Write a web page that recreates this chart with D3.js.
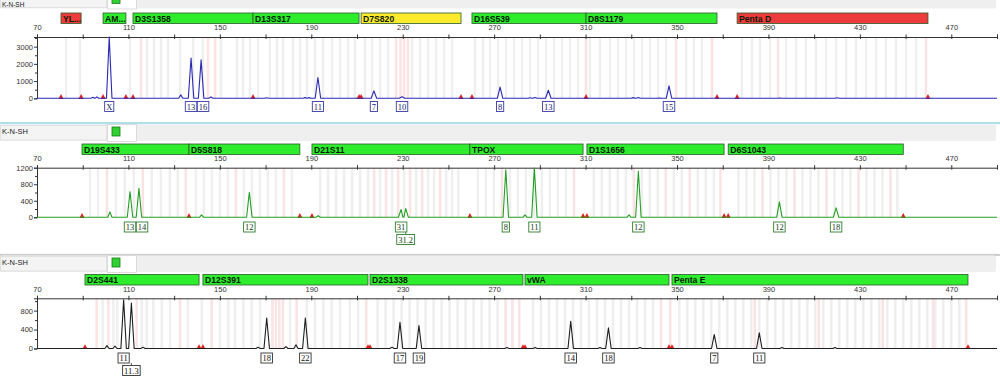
<!DOCTYPE html>
<html><head><meta charset="utf-8">
<script src="https://cdn.jsdelivr.net/npm/d3@7/dist/d3.min.js"></script>
<style>body{margin:0;background:#fff;overflow:hidden}svg{display:block}</style>
</head><body>
<svg id="c" width="1000" height="383"></svg>
<script>
// ---------------- DATA ----------------
const sampleName = "K-N-SH";
const xTickValues = [70,90,110,130,150,170,190,210,230,250,270,290,310,330,350,370,390,410,430,450,470,490];
const xTickLabels = [70,110,150,190,230,270,310,350,390,430,470];

// Panel 1 (blue)
const p1LocusNames = ["YL...","AM...","D3S1358","D13S317","D7S820","D16S539","D8S1179","Penta D"];
const p1LocusStart = [80.5, 98.9, 112.0, 164.5, 211.8, 260.3, 310.2, 376.3];
const p1LocusEnd   = [89.3, 108.9, 164.5, 210.9, 255.5, 310.2, 367.5, 459.8];
const p1LocusStatus = ["fail","ok","ok","ok","warn","ok","ok","fail"];
const p1AlleleLabels = ["X","13","16","11","7","10","8","13","15"];
const p1AlleleSizes  = [101.6, 137.4, 141.8, 192.9, 217.4, 229.7, 272.6, 293.7, 346.5];
const p1AlleleRFU    = [3600, 2340, 2230, 1210, 430, 90, 650, 470, 720];
const p1NoiseSizes = [94.5, 96.1, 132.9, 146.1, 170.5, 187.3, 189.0, 285.7, 287.9, 330.8, 333.0, 342.1, 395.0, 420.0];
const p1NoiseRFU   = [60, 80, 200, 80, 30, 40, 40, 30, 50, 40, 50, 20, 20, 30];
const p1YTicks = [0,1000,2000,3000];
const p1YMinor = [500,1500,2500,3500];
const p1BinsGray = [82.7,88.8,110.7,118.1,121.2,124.3,127.3,132.6,138.3,142.6,150.5,157.5,160.1,163.2,166.7,171.9,175.0,177.6,182.0,185.1,188.1,191.6,195.1,199.1,202.6,206.1,209.1,213.5,216.6,220.1,223.6,234.1,237.6,241.1,244.6,248.1,251.6,261.6,265.1,268.2,271.7,275.2,278.7,282.2,285.7,289.2,292.7,296.2,299.7,303.2,306.7,311.9,316.3,320.7,324.2,327.7,331.2,334.7,338.2,341.7,345.2,354.0,357.4,360.9,378.4,382.8,386.3,390.7,397.7,402.1,406.4,410.8,415.2,419.6,424.0,428.3,432.7,437.1,441.4,445.8,450.2,454.6];
const p1BinsPink = [115.5,144.8,147.9,227.1,229.0,230.6,232.3,310.2,349.6,365.3,394.2,458.9];

// Panel 2 (green)
const p2LocusNames = ["D19S433","D5S818","D21S11","TPOX","D1S1656","D6S1043"];
const p2LocusStart = [89.7, 136.5, 190.3, 259.4, 310.6, 372.4];
const p2LocusEnd   = [136.5, 185.0, 259.4, 308.9, 370.6, 449.0];
const p2LocusStatus = ["ok","ok","ok","ok","ok","ok"];
const p2AlleleLabels = ["13","14","12","31","31.2","8","11","12","12","18"];
const p2AlleleSizes  = [110.7, 114.6, 162.9, 229.3, 231.3, 275.1, 287.6, 333.1, 394.8, 419.6];
const p2AlleleRFU    = [620, 700, 605, 190, 213, 1150, 1190, 1110, 375, 228];
const p2NoiseSizes = [101.9, 142.0, 193.0, 283.5, 329.0];
const p2NoiseRFU   = [130, 60, 40, 60, 60];
const p2YTicks = [0,400,800,1200];
const p2YMinor = [200,600,1000];
const p2BinsGray = [93.2,96.7,104.5,108.4,112.4,120.2,124.2,128.1,131.6,139.5,143.0,146.5,150.0,153.5,160.5,164.0,167.5,171.0,174.5,181.5,193.9,197.4,200.9,204.4,207.9,211.4,214.9,220.1,225.4,230.6,235.9,241.1,243.7,249.0,251.6,254.3,262.9,266.4,269.9,276.9,280.4,283.9,287.4,290.9,294.4,297.9,301.4,313.6,317.1,320.6,324.1,327.6,334.6,338.1,341.6,348.6,352.1,359.1,362.6,366.1,376.9,380.4,383.9,390.9,394.4,397.9,404.9,408.4,411.9,418.9,422.4,425.9,432.9,436.4,439.9,446.4];
const p2BinsPink = [100.6,116.3,135.1,157.0,178.0,217.5,222.7,228.0,233.2,238.5,246.4,273.4,304.9,331.1,345.1,355.6,369.0,387.4,401.4,415.4,429.4,443.4];

// Panel 3 (black)
const p3LocusNames = ["D2S441","D12S391","D2S1338","vWA","Penta E"];
const p3LocusStart = [91.0, 142.6, 215.7, 283.5, 347.8];
const p3LocusEnd   = [140.9, 214.8, 282.6, 346.5, 477.3];
const p3LocusStatus = ["ok","ok","ok","ok","ok"];
const p3AlleleLabels = ["11","11.3","18","22","17","19","14","18","7","11"];
const p3AlleleSizes  = [107.9, 111.3, 170.5, 187.4, 228.8, 237.1, 303.5, 320.0, 366.3, 386.0];
const p3AlleleRFU    = [1030, 960, 645, 645, 555, 485, 575, 435, 295, 330];
const p3NoiseSizes = [100.6, 104.1, 116.4, 166.7, 178.9, 183.3, 225.3, 275.6, 287.9, 316.3, 333.8, 395.9, 419.1];
const p3NoiseRFU   = [60, 50, 30, 30, 40, 80, 30, 20, 20, 20, 20, 20, 20];
const p3YTicks = [0,400,800];
const p3YMinor = [200,600,1000];
const p3BinsGray = [98.7,103.4,105.1,115.8,118.0,120.9,124.6,128.2,136.0,142.1,150.0,153.7,156.6,160.3,163.9,167.6,180.7,188.0,191.6,195.3,198.9,202.6,206.9,210.5,219.0,222.5,226.0,229.5,233.0,236.5,240.0,243.5,247.0,250.5,254.0,257.5,261.0,264.5,268.0,271.5,287.0,290.5,294.0,297.5,301.0,304.5,308.0,311.5,315.0,318.5,322.0,325.5,329.0,332.5,336.0,339.5,351.0,354.5,358.0,361.5,365.0,368.5,372.0,375.5,379.0,382.5,386.0,389.5,393.0,396.5,400.0,403.5,407.0,410.5,414.0,417.5,421.0,424.5,428.0,431.5,435.0,438.5,442.0,445.5,449.0,452.5,456.0,459.5,463.0,466.5,470.0,473.5];
const p3BinsPink = [96.1,101.2,113.6,132.6,146.4,173.0,174.5,176.0,177.6,183.6,214.0,275.0,278.0,281.0,343.0,347.0,384.0,412.0,440.0,462.0,476.5];

// ---------------- LAYOUT / STYLE ----------------
const svg = d3.select("#c");
const x = d3.scaleLinear().domain([70,490]).range([37,997]);
const statusFill = {ok:"#2ded2d", warn:"#ffeb2e", fail:"#ee3b3b"};
const FONT = "'Liberation Sans', Arial, sans-serif";
const SERIF = "'Liberation Serif', 'Times New Roman', serif";

const panels = [
  {sepY:null, headTop:-8, headBot:8.5, nameY:7, lociY:13, axisY:37, baseY:98.3, yMax:3560, labelY:101.5,
   trace:"#2a2ab4", box:"#3a3aa8", boxText:"#1a1a6a",
   names:p1LocusNames, start:p1LocusStart, end:p1LocusEnd, status:p1LocusStatus,
   labels:p1AlleleLabels, sizes:p1AlleleSizes, rfu:p1AlleleRFU, nS:p1NoiseSizes, nR:p1NoiseRFU,
   yt:p1YTicks, ym:p1YMinor, bg:p1BinsGray, bp:p1BinsPink, sepColor:null},
  {sepY:122, headTop:124.5, headBot:141, nameY:134, lociY:144, axisY:167.7, baseY:217.3, yMax:1200, labelY:222,
   trace:"#23a023", box:"#2f7f2f", boxText:"#143c14",
   names:p2LocusNames, start:p2LocusStart, end:p2LocusEnd, status:p2LocusStatus,
   labels:p2AlleleLabels, sizes:p2AlleleSizes, rfu:p2AlleleRFU, nS:p2NoiseSizes, nR:p2NoiseRFU,
   yt:p2YTicks, ym:p2YMinor, bg:p2BinsGray, bp:p2BinsPink, sepColor:"#aee0ea"},
  {sepY:253.8, headTop:255.5, headBot:272, nameY:265, lociY:274.5, axisY:298.3, baseY:348.5, yMax:1060, labelY:353,
   trace:"#1e1e1e", box:"#333", boxText:"#111",
   names:p3LocusNames, start:p3LocusStart, end:p3LocusEnd, status:p3LocusStatus,
   labels:p3AlleleLabels, sizes:p3AlleleSizes, rfu:p3AlleleRFU, nS:p3NoiseSizes, nR:p3NoiseRFU,
   yt:p3YTicks, ym:p3YMinor, bg:p3BinsGray, bp:p3BinsPink, sepColor:"#cfcfcf"}
];

panels.forEach((P, pi) => {
  const g = svg.append("g");
  const y = d3.scaleLinear().domain([0, P.yMax]).range([P.baseY, P.axisY]);

  // separator
  if (P.sepColor) g.append("rect").attr("x",0).attr("y",P.sepY).attr("width",1000).attr("height",2.2).attr("fill",P.sepColor);
  // header band
  g.append("rect").attr("x",0).attr("y",P.headTop).attr("width",996).attr("height",P.headBot-P.headTop)
    .attr("fill","#efefef").attr("rx",2);
  g.append("rect").attr("x",0.5).attr("y",P.headTop+1).attr("width",106).attr("height",P.headBot-P.headTop-2)
    .attr("fill","#f4f4f4").attr("stroke","#dcdcdc").attr("stroke-width",0.8);
  g.append("text").attr("x",2).attr("y",P.nameY).attr("font-family",FONT).attr("font-size",pi===0?6.5:7.5)
    .attr("fill","#222").text(sampleName);
  g.append("rect").attr("x",107.5).attr("y",P.headTop).attr("width",29).attr("height",P.headBot-P.headTop+0.5)
    .attr("fill","#fff").attr("stroke","#d4d4d4").attr("stroke-width",0.8);
  g.append("rect").attr("x",112).attr("y",P.headBot-14).attr("width",8).attr("height",9)
    .attr("fill","#31cf31").attr("stroke","#1b7d1b").attr("stroke-width",0.8);

  // locus bars
  const loci = P.names.map((n,i)=>({n, s:P.start[i], e:P.end[i], st:P.status[i]}));
  const lg = g.append("g");
  lg.selectAll("rect").data(loci).join("rect")
    .attr("x", d=>x(d.s)).attr("y", P.lociY).attr("width", d=>x(d.e)-x(d.s)).attr("height", 10.5)
    .attr("fill", d=>statusFill[d.st]).attr("stroke","#2c5a2c").attr("stroke-width",0.8);
  lg.selectAll("text").data(loci).join("text")
    .attr("x", d=>x(d.s)+2).attr("y", P.lociY+8.6)
    .attr("font-family",FONT).attr("font-weight","bold").attr("font-size",8.6).attr("fill","#0a1a0a")
    .text(d=>d.n);

  // bins (stripes)
  const bw = x(71.1)-x(70);
  g.append("g").selectAll("rect").data(P.bg).join("rect")
    .attr("x", d=>x(d)-bw/2).attr("y", P.axisY).attr("width", bw).attr("height", P.baseY-P.axisY)
    .attr("fill","#efefef");
  g.append("g").selectAll("rect").data(P.bp).join("rect")
    .attr("x", d=>x(d)-bw/2).attr("y", P.axisY).attr("width", bw).attr("height", P.baseY-P.axisY)
    .attr("fill","#fbe3e3");

  // x axis (top)
  const xa = d3.axisTop(x).tickValues(xTickValues).tickSize(2.5)
    .tickFormat(d => xTickLabels.includes(d) ? d : "");
  const xg = g.append("g").attr("transform",`translate(0,${P.axisY})`).call(xa);
  xg.select(".domain").attr("stroke","#333").attr("stroke-width",1);
  xg.selectAll(".tick line").attr("y1",2).attr("stroke","#333");
  xg.selectAll(".tick text").attr("font-family",FONT).attr("font-size",7.5).attr("fill","#333").attr("dy","-0.15em");

  // y axis
  const ya = d3.axisLeft(y).tickValues(P.yt).tickSize(3).tickFormat(d3.format("d"));
  const yg = g.append("g").attr("transform",`translate(37,0)`).call(ya);
  yg.select(".domain").attr("stroke","#333");
  yg.selectAll(".tick line").attr("stroke","#333");
  yg.selectAll(".tick text").attr("font-family",FONT).attr("font-size",7.5).attr("fill","#333").attr("x",-4);
  const ymn = d3.axisLeft(y).tickValues(P.ym.filter(v=>v<P.yMax)).tickSize(2).tickFormat("");
  const ymg = g.append("g").attr("transform",`translate(37,0)`).call(ymn);
  ymg.select(".domain").remove();
  ymg.selectAll(".tick line").attr("stroke","#333");

  // red markers at locus boundaries
  const bounds = [];
  loci.forEach(l => { [l.s,l.e].forEach(b => { if (!bounds.some(v=>Math.abs(v-b)<0.3)) bounds.push(b); }); });
  g.append("g").selectAll("path").data(bounds).join("path")
    .attr("d", d => `M${x(d)-2.6},${P.baseY+0.6} L${x(d)},${P.baseY-4.2} L${x(d)+2.6},${P.baseY+0.6} Z`)
    .attr("fill","#e0201c");

  // trace
  const pts = [[70,0],[490,0]];
  P.sizes.forEach((s,i)=>{ const h=Math.min(P.rfu[i],P.yMax); pts.push([s-1.2,0],[s,h],[s+1.2,0]); });
  P.nS.forEach((s,i)=>{ pts.push([s-0.9,0],[s,P.nR[i]],[s+0.9,0]); });
  pts.sort((a,b)=>a[0]-b[0]);
  g.append("path").datum(pts)
    .attr("d", d3.line().x(d=>x(d[0])).y(d=>y(d[1])))
    .attr("fill","none").attr("stroke",P.trace).attr("stroke-width",1.1).attr("stroke-linejoin","round");

  // allele label boxes
  const lab = P.labels.map((t,i)=>({t, s:P.sizes[i]}));
  const lbg = g.append("g");
  let prevRight = -1e9;
  lab.forEach(d => {
    const cx = x(d.s);
    const tmp = lbg.append("text").attr("font-family",SERIF).attr("font-size",8.5).text(d.t);
    const tw = tmp.node().getComputedTextLength(); tmp.remove();
    const w = tw + 3;
    let row = 0, left = cx - w/2;
    if (left < prevRight - 5) row = 1;
    else { if (left < prevRight + 0.5) left = prevRight + 0.5; prevRight = left + w; }
    const top = P.labelY + row*12.5;
    if (row === 1) lbg.append("line").attr("x1",cx).attr("x2",cx).attr("y1",P.labelY+10).attr("y2",top)
      .attr("stroke",P.box).attr("stroke-width",0.8);
    lbg.append("rect").attr("x",left).attr("y",top).attr("width",w).attr("height",10)
      .attr("fill","#fff").attr("stroke",P.box).attr("stroke-width",0.9);
    lbg.append("text").attr("x",left + w/2).attr("y",top+8).attr("text-anchor","middle")
      .attr("font-family",SERIF).attr("font-size",8.5)
      .attr("fill",P.boxText).text(d.t);
  });
});
</script>
</body></html>
